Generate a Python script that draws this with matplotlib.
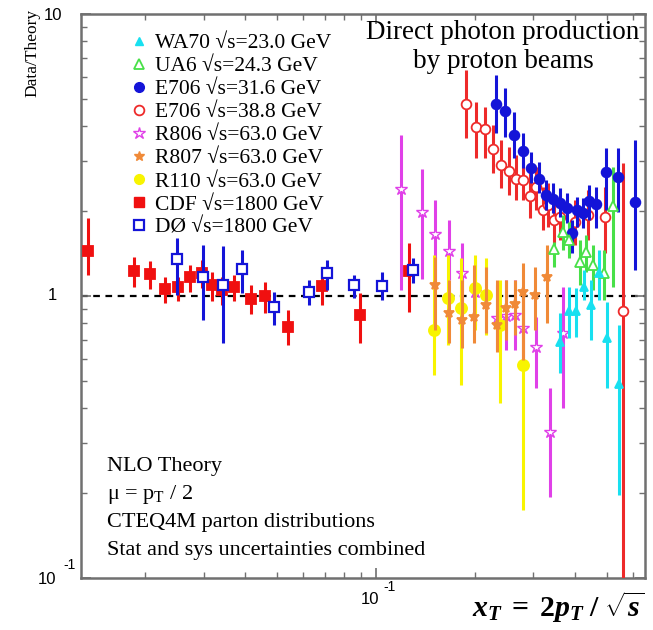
import numpy as np
import matplotlib
matplotlib.use("Agg")
import matplotlib.pyplot as plt
from matplotlib.lines import Line2D
from matplotlib.ticker import FixedLocator, NullFormatter

# ---------------- data (x_T, ratio, lower, upper) ----------------
wa70_x = [0.361, 0.384, 0.404, 0.427, 0.448, 0.474, 0.501, 0.545]
wa70_y = [0.687, 0.885, 0.885, 1.076, 0.929, 1.207, 0.710, 0.488]
wa70_lo = [0.533, 0.710, 0.716, 0.968, 0.698, 0.968, 0.472, 0.197]
wa70_hi = [0.870, 1.076, 1.067, 1.236, 1.139, 1.456, 0.952, 0.789]

ua6_x = [0.346, 0.369, 0.384, 0.415, 0.433, 0.454, 0.491, 0.523]
ua6_y = [1.468, 1.686, 1.58, 1.32, 1.432, 1.288, 1.207, 2.085]
ua6_lo = [1.267, 1.456, 1.364, 1.094, 1.217, 1.05, 0.968, 1.076]
ua6_hi = [1.554, 1.94, 1.83, 1.58, 1.645, 1.516, 1.456, 2.87]

e706a_x = [0.231, 0.246, 0.262, 0.279, 0.295, 0.312, 0.327, 0.344, 0.361,
           0.379, 0.393, 0.406, 0.424, 0.442, 0.464, 0.498, 0.541, 0.609]
e706a_y = [4.80, 4.53, 3.72, 3.27, 2.84, 2.60, 2.28, 2.21, 2.14,
           2.05, 1.67, 2.02, 1.97, 2.17, 2.12, 2.75, 2.64, 2.15]
e706a_lo = [3.78, 3.66, 3.09, 2.84, 2.52, 2.32, 2.02, 1.97, 1.91,
            1.81, 1.42, 1.76, 1.74, 1.86, 1.74, 2.02, 1.99, 1.236]
e706a_hi = [6.08, 5.46, 4.49, 3.78, 3.24, 2.99, 2.58, 2.52, 2.42,
            2.32, 1.86, 2.24, 2.23, 2.48, 2.43, 3.35, 3.35, 3.57]

e706b_x = [0.187, 0.201, 0.214, 0.226, 0.239, 0.253, 0.266, 0.279, 0.293,
           0.305, 0.321, 0.332, 0.346, 0.361, 0.401, 0.439, 0.494, 0.560]
e706b_y = [4.80, 3.97, 3.91, 3.32, 2.91, 2.77, 2.60, 2.58, 2.26,
           2.43, 2.02, 2.10, 1.86, 1.91, 1.83, 1.94, 1.91, 0.885]
e706b_lo = [3.63, 3.09, 3.09, 2.73, 2.42, 2.28, 2.19, 2.19, 1.89,
            2.02, 1.71, 1.76, 1.54, 1.58, 1.52, 1.58, 1.42, 0.05]
e706b_hi = [6.33, 4.88, 4.68, 4.04, 3.57, 3.38, 3.16, 3.04, 2.73,
            2.87, 2.43, 2.52, 2.24, 2.28, 2.19, 2.38, 2.43, 2.96]

r806_x = [0.119, 0.138, 0.151, 0.166, 0.182, 0.200, 0.233, 0.248, 0.264,
          0.279, 0.305, 0.337, 0.369]
r806_y = [2.40, 1.99, 1.66, 1.445, 1.207, 1.033, 0.836, 0.849, 0.856,
          0.770, 0.659, 0.330, 0.739]
r806_lo = [1.05, 1.149, 1.05, 1.139, 0.929, 0.789, 0.644, 0.644, 0.644,
           0.569, 0.472, 0.194, 0.401]
r806_hi = [3.72, 2.82, 2.19, 1.86, 1.54, 1.342, 1.094, 1.139, 1.139,
           1.05, 0.842, 0.472, 1.076]

r807_x = [0.151, 0.166, 0.182, 0.198, 0.215, 0.233, 0.248, 0.264, 0.279,
          0.303, 0.330]
r807_y = [1.094, 0.870, 0.822, 0.842, 0.929, 0.789, 0.907, 0.937, 1.033,
          1.008, 1.168]
r807_lo = [0.757, 0.681, 0.654, 0.681, 0.739, 0.633, 0.698, 0.727, 0.593,
           0.757, 0.802]
r807_hi = [1.375, 1.139, 1.139, 1.288, 1.267, 1.139, 1.139, 1.139, 1.309,
           1.267, 1.516]

r110_x = [0.150, 0.165, 0.181, 0.200, 0.215, 0.238, 0.279]
r110_y = [0.757, 0.984, 0.907, 1.067, 1.008, 0.789, 0.569]
r110_lo = [0.525, 0.670, 0.483, 0.757, 0.727, 0.417, 0.174]
r110_hi = [1.397, 1.397, 1.364, 1.397, 1.364, 1.139, 1.05]

cdf_x = [0.0134, 0.0185, 0.0206, 0.0230, 0.0251, 0.0273, 0.0297, 0.0318,
         0.0341, 0.0371, 0.0418, 0.0461, 0.0541, 0.0686, 0.0895, 0.126]
cdf_y = [1.445, 1.227, 1.197, 1.059, 1.076, 1.168, 1.207, 1.094,
         1.050, 1.076, 0.976, 1.0, 0.776, 1.085, 0.856, 1.227]
cdf_lo = [1.187, 1.076, 1.059, 0.944, 0.960, 1.033, 1.067, 0.960,
          0.929, 0.960, 0.863, 0.870, 0.670, 0.929, 0.681, 0.878]
cdf_hi = [1.89, 1.375, 1.33, 1.168, 1.168, 1.288, 1.342, 1.217,
          1.168, 1.187, 1.094, 1.121, 0.892, 1.236, 1.025, 1.541]

d0_x = [0.0249, 0.0299, 0.0344, 0.0393, 0.0491, 0.0627, 0.0711, 0.0858,
        0.1043, 0.1295]
d0_y = [1.353, 1.168, 1.094, 1.247, 0.914, 1.033, 1.207, 1.094, 1.085, 1.236]
d0_lo = [1.008, 0.822, 0.681, 1.025, 0.789, 0.929, 1.05, 0.984, 0.968, 1.112]
d0_hi = [1.606, 1.516, 1.504, 1.456, 1.033, 1.139, 1.342, 1.187, 1.217, 1.364]

labels = ["WA70 \u221as=23.0 GeV", "UA6 \u221as=24.3 GeV", "E706 \u221as=31.6 GeV",
          "E706 \u221as=38.8 GeV", "R806 \u221as=63.0 GeV", "R807 \u221as=63.0 GeV",
          "R110 \u221as=63.0 GeV", "CDF \u221as=1800 GeV", "D\u00d8 \u221as=1800 GeV"]

# ---------------- styles ----------------
C_CYAN = "#18e0f0"
C_GREEN = "#48e048"
C_BLUE = "#1414d8"
C_RED = "#ee2a2a"
C_MAG = "#e040e8"
C_ORG = "#f08a38"
C_YEL = "#f8f400"
C_RED2 = "#f01010"

plt.rcParams['font.family'] = ['Liberation Serif', 'DejaVu Serif']
plt.rcParams['mathtext.fontset'] = 'custom'
plt.rcParams['mathtext.rm'] = 'Liberation Serif:bold'
plt.rcParams['mathtext.it'] = 'Liberation Serif:bold:italic'
plt.rcParams['mathtext.bf'] = 'Liberation Serif:bold'

W, H = 653, 630
fig = plt.figure(figsize=(W / 100, H / 100), dpi=100)
L, R, T, B = 81, 645, 14, 578
ax = fig.add_axes([L / W, (H - B) / H, (R - L) / W, (B - T) / H])
ax.set_xscale('log')
ax.set_yscale('log')
ax.set_xlim(0.01276, 0.6534)
ax.set_ylim(0.1, 10)

ax.axhline(1.0, color='black', lw=1.6, ls=(0, (3, 2.5)), zorder=1)


def draw(x, y, lo, hi, marker, color, ms, filled=True, mew=1.3, z=3):
    x = np.array(x); y = np.array(y); lo = np.array(lo); hi = np.array(hi)
    ax.errorbar(x, y, yerr=[y - lo, hi - y], fmt=marker, color=color,
                ecolor=color, elinewidth=2.2, capsize=0, ms=ms,
                mfc=color if filled else 'white', mec=color, mew=mew,
                zorder=z, clip_on=True)


draw(r806_x, r806_y, r806_lo, r806_hi, '*', C_MAG, 9, filled=False, mew=1.0, z=2)
draw(r807_x, r807_y, r807_lo, r807_hi, '*', C_ORG, 7, z=3)
draw(r110_x, r110_y, r110_lo, r110_hi, 'o', C_YEL, 8, z=2.5)
draw(e706b_x, e706b_y, e706b_lo, e706b_hi, 'o', C_RED, 7, filled=False, z=3)
draw(e706a_x, e706a_y, e706a_lo, e706a_hi, 'o', C_BLUE, 7, z=3.2)
draw(ua6_x, ua6_y, ua6_lo, ua6_hi, '^', C_GREEN, 7, filled=False, z=3.3)
draw(wa70_x, wa70_y, wa70_lo, wa70_hi, '^', C_CYAN, 6, z=3.3)
draw(cdf_x, cdf_y, cdf_lo, cdf_hi, 's', C_RED2, 7, z=3)
draw(d0_x, d0_y, d0_lo, d0_hi, 's', C_BLUE, 7, filled=False, mew=1.6, z=3.5)

# ---------------- axes styling ----------------
GRAY = "#707070"
for s in ax.spines.values():
    s.set_color(GRAY)
    s.set_linewidth(1.8)
ax.xaxis.set_major_locator(FixedLocator([0.1]))
ax.xaxis.set_minor_locator(FixedLocator([0.02, 0.03, 0.04, 0.05, 0.06, 0.07, 0.08, 0.09,
                                         0.2, 0.3, 0.4, 0.5, 0.6]))
ax.yaxis.set_major_locator(FixedLocator([0.1, 1, 10]))
ax.yaxis.set_minor_locator(FixedLocator([0.2, 0.3, 0.4, 0.5, 0.6, 0.7, 0.8, 0.9,
                                         2, 3, 4, 5, 6, 7, 8, 9]))
ax.xaxis.set_major_formatter(NullFormatter())
ax.xaxis.set_minor_formatter(NullFormatter())
ax.yaxis.set_major_formatter(NullFormatter())
ax.yaxis.set_minor_formatter(NullFormatter())
ax.tick_params(which='both', direction='in', top=True, right=True, color=GRAY)
ax.tick_params(which='major', length=7, width=1.2)
ax.tick_params(which='minor', length=4, width=1.0)


def px(x, y, s, **kw):
    fig.text(x / W, 1 - y / H, s, **kw)


SANS = ['Liberation Sans', 'DejaVu Sans']
px(53, 15, "10", family=SANS, fontsize=12, ha='center', va='center')
px(52, 296, "1", family=SANS, fontsize=12, ha='center', va='center')
px(47, 579, "10", family=SANS, fontsize=12, ha='center', va='center')
px(70, 565, "-1", family=SANS, fontsize=10, ha='center', va='center')
px(370, 599, "10", family=SANS, fontsize=12, ha='center', va='center')
px(390, 587, "-1", family=SANS, fontsize=10, ha='center', va='center')

px(32, 9, "Data/Theory", fontsize=12.5, rotation=90, ha='center', va='top')

px(645, 607, r"$x_T\;=\;2p_T\;/\;\sqrt{s}$", fontsize=21.5, ha='right', va='center')

px(503, 47, "Direct photon production\nby proton beams", fontsize=19.5,
   ha='center', va='center', linespacing=1.25)

info = ["NLO Theory", "\u03bc = p$_{\\mathregular{T}}$ / 2",
        "CTEQ4M parton distributions", "Stat and sys uncertainties combined"]
for i, t in enumerate(info):
    px(107, 466 + i * 28, t, fontsize=16, ha='left', va='center')

# ---------------- legend ----------------
handles = [
    Line2D([], [], ls='none', marker='^', ms=6, color=C_CYAN),
    Line2D([], [], ls='none', marker='^', ms=7, color=C_GREEN, mfc='white', mew=1.3),
    Line2D([], [], ls='none', marker='o', ms=7, color=C_BLUE),
    Line2D([], [], ls='none', marker='o', ms=7, color=C_RED, mfc='white', mew=1.3),
    Line2D([], [], ls='none', marker='*', ms=9, color=C_MAG, mfc='white', mew=1.0),
    Line2D([], [], ls='none', marker='*', ms=7, color=C_ORG),
    Line2D([], [], ls='none', marker='o', ms=7, color=C_YEL),
    Line2D([], [], ls='none', marker='s', ms=7, color=C_RED2),
    Line2D([], [], ls='none', marker='s', ms=7, color=C_BLUE, mfc='white', mew=1.6),
]
leg = ax.legend(handles, labels, loc='upper left', frameon=False,
                bbox_to_anchor=((128 - L) / (R - L), 1 - (33 - T) / (B - T)),
                borderaxespad=0, borderpad=0, fontsize=15.5, handlelength=1.0,
                handletextpad=0.25, labelspacing=0.14)

fig.savefig("out.png", dpi=100)
